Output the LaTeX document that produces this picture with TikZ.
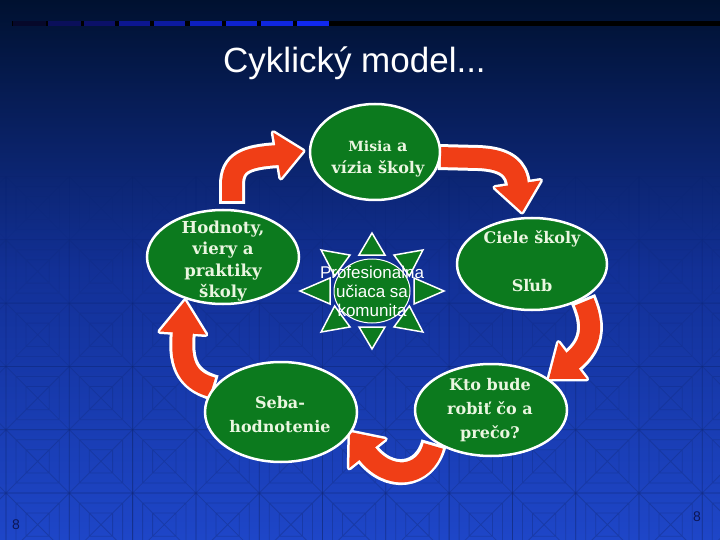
\documentclass[tikz,border=0pt]{standalone}
\usepackage{fontspec}
\setmainfont{Liberation Sans}
\newfontfamily\serifb{DejaVu Serif}
\usetikzlibrary{shapes.geometric,calc}
\definecolor{bgtop}{RGB}{0,17,48}
\definecolor{bgmid}{RGB}{18,48,150}
\definecolor{bgbot}{RGB}{30,70,200}
\definecolor{ellgreen}{RGB}{12,122,30}
\definecolor{arrowred}{RGB}{240,62,22}
\definecolor{txtgreen}{RGB}{234,246,224}
\definecolor{numblue}{RGB}{12,22,86}
\definecolor{barA}{RGB}{6,8,42}
\definecolor{barB}{RGB}{10,15,90}
\definecolor{barC}{RGB}{11,16,104}
\definecolor{barD}{RGB}{12,22,144}
\definecolor{barE}{RGB}{12,26,160}
\definecolor{barF}{RGB}{13,31,192}
\definecolor{barG}{RGB}{14,34,208}
\definecolor{barH}{RGB}{15,38,224}
\definecolor{barI}{RGB}{16,40,240}
\tikzset{
  ell/.style={ellipse, draw=white, line width=2.5pt, fill=ellgreen, inner sep=0pt},
  elltext/.style={text=txtgreen, font=\serifb\bfseries\fontsize{16}{22}\selectfont, align=center, inner sep=0pt},
  shaftline/.style={line cap=butt, line join=round},
  startri/.style={draw=white, line width=1.5pt, fill=ellgreen, line join=miter},
  floorline/.style={line width=0.8pt},
}
% #1 shaft path, #2 head base coordinate, #3 tip coordinate
\newcommand{\fatarrow}[3]{%
  \path ($(#2)!-2pt!(#3)$) coordinate (hb);
  \path ($(hb)!23pt!90:(#3)$) coordinate (hl);
  \path ($(hb)!23pt!-90:(#3)$) coordinate (hr);
  \draw[shaftline, white, line width=26pt] #1;
  \draw[white, line width=5pt, line join=round, fill=white] (hl) -- (#3) -- (hr) -- cycle;
  \draw[shaftline, arrowred, line width=20pt, shorten <=3pt] #1;
  \fill[arrowred] (hl) -- (#3) -- (hr) -- cycle;
}
\begin{document}
\begin{tikzpicture}[x=1pt,y=-1pt]
\useasboundingbox (0,0) rectangle (720,540);
% background
\shade[top color=bgtop, bottom color=bgbot, middle color=bgmid] (0,0) rectangle (720,540);
% faint floor pattern
\begin{scope}
\clip (0,0) rectangle (720,540);
\foreach \r in {0,...,5} {
  \pgfmathsetmacro\yy{493-63.3*\r}
  \pgfmathsetmacro\op{0.15*(1-\r/5.5)}
  \foreach \c in {-1,...,11} {
    \pgfmathsetmacro\xx{6+63.3*\c}
    \draw[floorline, black, opacity=\op] (\xx,\yy) rectangle ++(63.3,63.3)
      (\xx,\yy) -- ++(63.3,63.3) (\xx+63.3,\yy) -- ++(-63.3,63.3)
      (\xx+10,\yy+10) rectangle ++(43.3,43.3)
      (\xx+20,\yy+20) rectangle ++(23.3,23.3);
  }
}
\end{scope}
% top bar
\fill[black] (12,21) rectangle (720,26.5);
\foreach \xa/\xb/\c in {12.7/46/barA,48/80.5/barB,84/115/barC,119/150/barD,154/185/barE,190/222/barF,226/257/barG,261/293/barH,297/329/barI}
  \fill[\c] (\xa,21) rectangle (\xb,26.5);
% title
\node[anchor=base, text=white, font=\fontsize{35}{40}\selectfont, inner sep=0pt] (title) at (354.5,73) {Cyklický model...};

% coordinates for arrows
\coordinate (a1s) at (232,204); \coordinate (a1b) at (279,155); \coordinate (a1t) at (303,151);
\coordinate (a2s) at (438,157); \coordinate (a2b) at (518,186); \coordinate (a2t) at (522,212);
\coordinate (a3s) at (583,299); \coordinate (a3b) at (571,362); \coordinate (a3t) at (549,379);
\coordinate (a4s) at (434,443); \coordinate (a4b) at (366,452); \coordinate (a4t) at (350,432);
\coordinate (a5s) at (215,388); \coordinate (a5b) at (183,331); \coordinate (a5t) at (185,301);

\fatarrow{(a1s) -- (232,185) .. controls (232,163) and (245,157) .. (a1b)}{a1b}{a1t}
\fatarrow{(a2s) -- (478,158) .. controls (505,159) and (517,168) .. (a2b)}{a2b}{a2t}
\fatarrow{(a3s) .. controls (592,320) and (596,343) .. (a3b)}{a3b}{a3t}
\fatarrow{(a4s) .. controls (425,478) and (388,482) .. (a4b)}{a4b}{a4t}
\fatarrow{(a5s) .. controls (185,380) and (180,360) .. (a5b)}{a5b}{a5t}

% ellipses
\node[ell, minimum width=130pt, minimum height=96pt] (misia) at (375,152) {};
\node[ell, minimum width=152pt, minimum height=94pt] (hodnoty) at (223,257) {};
\node[ell, minimum width=150pt, minimum height=92pt] (ciele) at (532,264) {};
\node[ell, minimum width=152pt, minimum height=100pt] (seba) at (281,412) {};
\node[ell, minimum width=152pt, minimum height=92pt] (kto) at (491,410) {};

% texts
\node[elltext] (misiaT) at (378,159) {{\fontsize{14}{16}\selectfont Misia} a\\vízia školy};
\node[elltext, font=\serifb\bfseries\fontsize{16.5}{21.5}\selectfont] (hodnotyT) at (223,261) {Hodnoty,\\viery a\\praktiky\\školy};
\node[elltext] (cieleT) at (532,261) {Ciele školy\\[26pt]Sľub};
\node[elltext, font=\serifb\bfseries\fontsize{16}{24}\selectfont] (sebaT) at (280,415) {Seba-\\hodnotenie};
\node[elltext, font=\serifb\bfseries\fontsize{16}{24}\selectfont] (ktoT) at (490,410) {Kto bude\\robiť čo a\\prečo?};

% star
\coordinate (sc) at (372,291);
\foreach \a in {0,45,...,315} {
  \path ($(sc)+({72*cos(\a)},{58*sin(\a)})$) coordinate (st);
  \path ($(sc)+({42*cos(\a)},{36*sin(\a)})$) coordinate (sb);
  \path ($(sb)!13pt!90:(st)$) coordinate (sl);
  \path ($(sb)!13pt!-90:(st)$) coordinate (sr);
  \draw[startri] (sl) -- (st) -- (sr) -- cycle;
}
\node[ellipse, draw=white, line width=1pt, fill=ellgreen, minimum width=76pt, minimum height=64pt, inner sep=0pt] (star) at (sc) {};
\node[text=white, font=\fontsize{17}{19}\selectfont, align=center, inner sep=0pt] (starT) at (372,291) {Profesionalna\\učiaca sa\\komunita};

% page numbers
\node[text=numblue, font=\fontsize{14}{16}\selectfont, inner sep=0pt] (numL) at (16,525) {8};
\node[text=numblue, font=\fontsize{14}{16}\selectfont, inner sep=0pt] (numR) at (697,517) {8};
\end{tikzpicture}
\end{document}
